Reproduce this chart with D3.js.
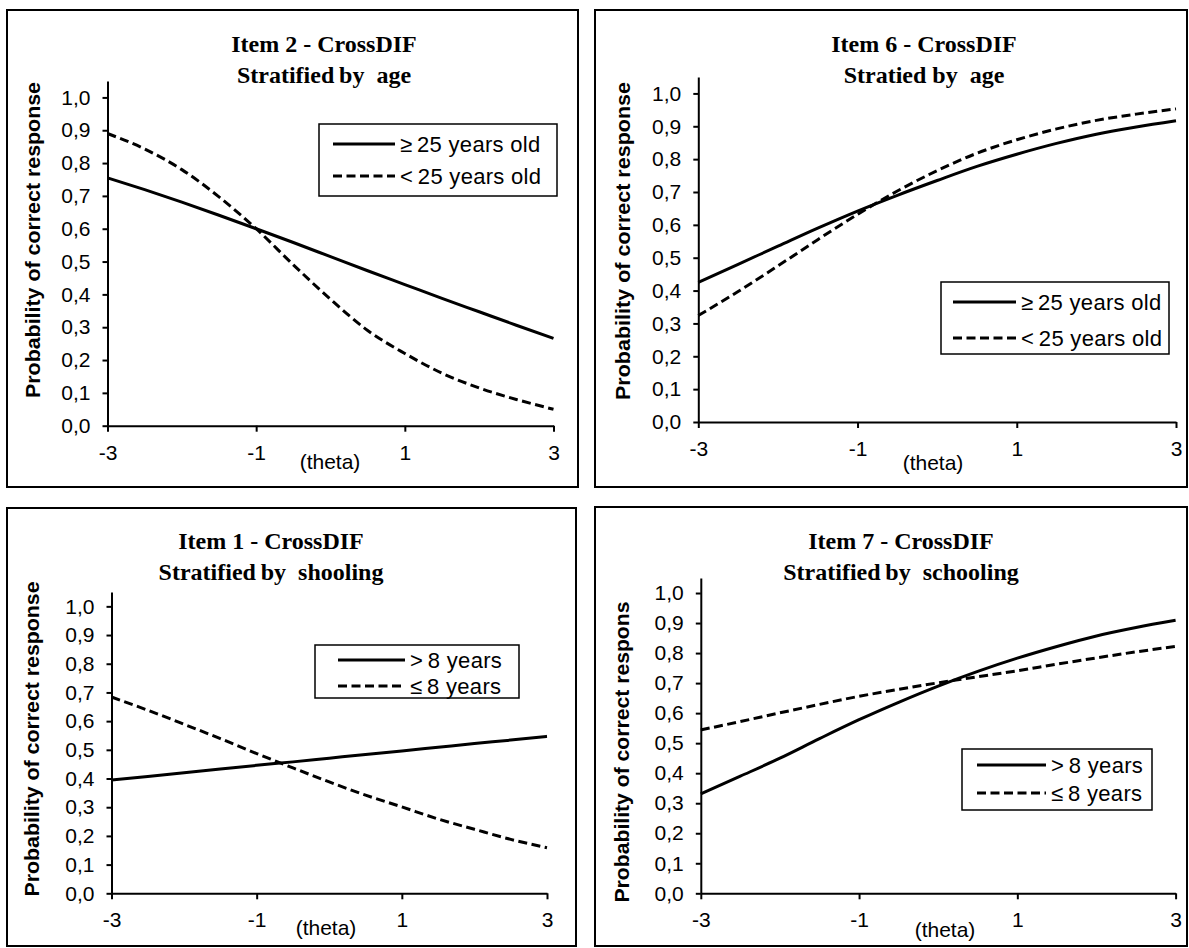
<!DOCTYPE html>
<html>
<head>
<meta charset="utf-8">
<script src="https://cdn.jsdelivr.net/npm/d3@7"></script>
<style>
	body { margin: 0; background: #fff; }
	svg { display: block; }
	.tick text { font-family: "Liberation Sans", Arial, sans-serif; font-size: 21px; fill: #000; }
</style>
</head>
<body>
<svg id="chart" width="1189" height="948"></svg>
<script>

// theta values read along the x axis
const theta = [-3, -2.5, -2, -1.5, -1, -0.5, 0, 0.5, 1, 1.5, 2, 2.5, 3];

// Item 2, stratified by age
const item2Older   = [0.755, 0.719, 0.681, 0.641, 0.600, 0.558, 0.515, 0.472, 0.430, 0.388, 0.347, 0.306, 0.266];
const item2Younger = [0.89, 0.843, 0.78, 0.697, 0.60, 0.49, 0.385, 0.29, 0.22, 0.16, 0.115, 0.08, 0.05];

// Item 6, stratified by age
const item6Older   = [0.425, 0.48, 0.535, 0.59, 0.642, 0.69, 0.735, 0.778, 0.815, 0.848, 0.876, 0.898, 0.917];
const item6Younger = [0.324, 0.397, 0.475, 0.555, 0.632, 0.703, 0.765, 0.818, 0.859, 0.892, 0.918, 0.937, 0.953];

// Item 1, stratified by schooling
const item1High = [0.395, 0.407, 0.42, 0.433, 0.446, 0.458, 0.471, 0.484, 0.496, 0.509, 0.522, 0.534, 0.547];
const item1Low  = [0.684, 0.638, 0.589, 0.539, 0.487, 0.437, 0.388, 0.342, 0.301, 0.259, 0.223, 0.188, 0.159];

// Item 7, stratified by schooling
const item7High = [0.331, 0.39, 0.45, 0.515, 0.578, 0.636, 0.69, 0.739, 0.783, 0.822, 0.857, 0.885, 0.909];
const item7Low  = [0.544, 0.572, 0.601, 0.629, 0.656, 0.679, 0.701, 0.721, 0.741, 0.763, 0.784, 0.804, 0.822];

const xTicks = [-3, -1, 1, 3];
const yTicks = [0, 0.1, 0.2, 0.3, 0.4, 0.5, 0.6, 0.7, 0.8, 0.9, 1.0];

const ageLabels = ["\u2265\u200925 years old", "<\u200925 years old"];
const schoolLabels = [">\u20098 years", "\u2264\u20098 years"];

const panels = [
	{ title: ["Item 2 - CrossDIF", "Stratified\u2009by  age"], yTitle: "Probability of correct response",
	  series: [item2Older, item2Younger], labels: ageLabels,
	  frame: [7, 10, 578, 487], x: [107.5, 553.5], y: [425.7, 81], titleX: 324, titleY: 52,
	  yTitleX: 32, yTitleY: 240, yTitleLen: 316, thetaX: 330, thetaY: 469,
	  legend: [319, 124, 557, 196], legRows: [144, 176], legLine: [333, 395] },
	{ title: ["Item 6 - CrossDIF", "Stratied by  age"], yTitle: "Probability of correct response",
	  series: [item6Older, item6Younger], labels: ageLabels,
	  frame: [595, 10, 1187, 487], x: [698.3, 1176], y: [422, 77], titleX: 924, titleY: 52,
	  yTitleX: 622, yTitleY: 241, yTitleLen: 318, thetaX: 933, thetaY: 470,
	  legend: [941, 282, 1169, 354], legRows: [302, 338], legLine: [953, 1016] },
	{ title: ["Item 1 - CrossDIF", "Stratified\u2009by  shooling"], yTitle: "Probability of correct response",
	  series: [item1High, item1Low], labels: schoolLabels,
	  frame: [7, 508, 576, 946], x: [111.5, 547], y: [893.3, 592], titleX: 271, titleY: 549,
	  yTitleX: 31, yTitleY: 739, yTitleLen: 315, thetaX: 326, thetaY: 935,
	  legend: [315, 645, 519, 698], legRows: [660, 686], legLine: [338, 405] },
	{ title: ["Item 7 - CrossDIF", "Stratified\u2009by  schooling"], yTitle: "Probability of correct respons",
	  series: [item7High, item7Low], labels: schoolLabels,
	  frame: [595, 507, 1187, 946], x: [700.8, 1175.6], y: [893.3, 578], titleX: 901, titleY: 549,
	  yTitleX: 621, yTitleY: 752, yTitleLen: 301, thetaX: 945, thetaY: 937,
	  legend: [962, 749, 1152, 810], legRows: [765, 793], legLine: [977, 1046] }
];

const dashes = [null, "9,4.5"];
const svg = d3.select("#chart");
const fmt = d3.format(".1f");

panels.forEach(function(p) {
	const g = svg.append("g");

	//Outer frame
	g.append("rect")
		.attr("x", p.frame[0]).attr("y", p.frame[1])
		.attr("width", p.frame[2] - p.frame[0]).attr("height", p.frame[3] - p.frame[1])
		.attr("fill", "none").attr("stroke", "#000").attr("stroke-width", 2);

	const x = d3.scaleLinear().domain([-3, 3]).range(p.x);
	const y = d3.scaleLinear().domain([0, 1.05]).range(p.y);

	//Title (two lines)
	p.title.forEach(function(t, i) {
		g.append("text")
			.attr("x", p.titleX).attr("y", p.titleY + i * 31)
			.attr("text-anchor", "middle")
			.style("font-family", "'Liberation Serif', 'Times New Roman', serif")
			.style("font-weight", "bold").style("font-size", "24px")
			.style("white-space", "pre")
			.text(t);
	});

	//Axes
	const yAxis = g.append("g")
		.attr("transform", "translate(" + p.x[0] + ",0)")
		.call(d3.axisLeft(y).tickValues(yTicks).tickSize(5).tickSizeOuter(0).tickPadding(12)
			.tickFormat(function(d) { return fmt(d).replace(".", ","); }));
	const xAxis = g.append("g")
		.attr("transform", "translate(0," + y(0) + ")")
		.call(d3.axisBottom(x).tickValues(xTicks).tickSize(6).tickSizeOuter(0).tickPadding(13)
			.tickFormat(d3.format("d")));
	[yAxis, xAxis].forEach(function(a) {
		a.selectAll("path, line").attr("stroke", "#000").attr("stroke-width", 2);
	});
	xAxis.selectAll("text").text(function(d) { return d < 0 ? "-" + Math.abs(d) : d; });

	//Axis titles
	g.append("text")
		.attr("transform", "translate(" + p.yTitleX + "," + p.yTitleY + ") rotate(-90)")
		.attr("dy", "0.36em")
		.attr("text-anchor", "middle")
		.attr("textLength", p.yTitleLen).attr("lengthAdjust", "spacingAndGlyphs")
		.style("font-family", "'Liberation Sans', Arial, sans-serif")
		.style("font-weight", "bold").style("font-size", "21px")
		.text(p.yTitle);
	g.append("text")
		.attr("x", p.thetaX).attr("y", p.thetaY)
		.attr("text-anchor", "middle")
		.style("font-family", "'Liberation Sans', Arial, sans-serif")
		.style("font-size", "21px")
		.text("(theta)");

	//Curves
	const line = d3.line()
		.x(function(d) { return x(d[0]); })
		.y(function(d) { return y(d[1]); })
		.curve(d3.curveMonotoneX);
	p.series.forEach(function(s, i) {
		g.append("path")
			.datum(theta.map(function(t, j) { return [t, s[j]]; }))
			.attr("d", line)
			.attr("fill", "none")
			.attr("stroke", "#000")
			.attr("stroke-width", 3)
			.attr("stroke-dasharray", dashes[i]);
	});

	//Legend
	g.append("rect")
		.attr("x", p.legend[0]).attr("y", p.legend[1])
		.attr("width", p.legend[2] - p.legend[0]).attr("height", p.legend[3] - p.legend[1])
		.attr("fill", "#fff").attr("stroke", "#000").attr("stroke-width", 1.5);
	p.labels.forEach(function(lab, i) {
		g.append("line")
			.attr("x1", p.legLine[0]).attr("x2", p.legLine[1])
			.attr("y1", p.legRows[i]).attr("y2", p.legRows[i])
			.attr("stroke", "#000").attr("stroke-width", 3)
			.attr("stroke-dasharray", dashes[i]);
		g.append("text")
			.attr("x", p.legLine[1] + 5).attr("y", p.legRows[i])
			.attr("dy", "0.36em")
			.style("font-family", "'Liberation Sans', Arial, sans-serif")
			.style("font-size", "22px")
			.style("letter-spacing", "0.3px")
			.text(lab);
	});
});

</script>
</body>
</html>
